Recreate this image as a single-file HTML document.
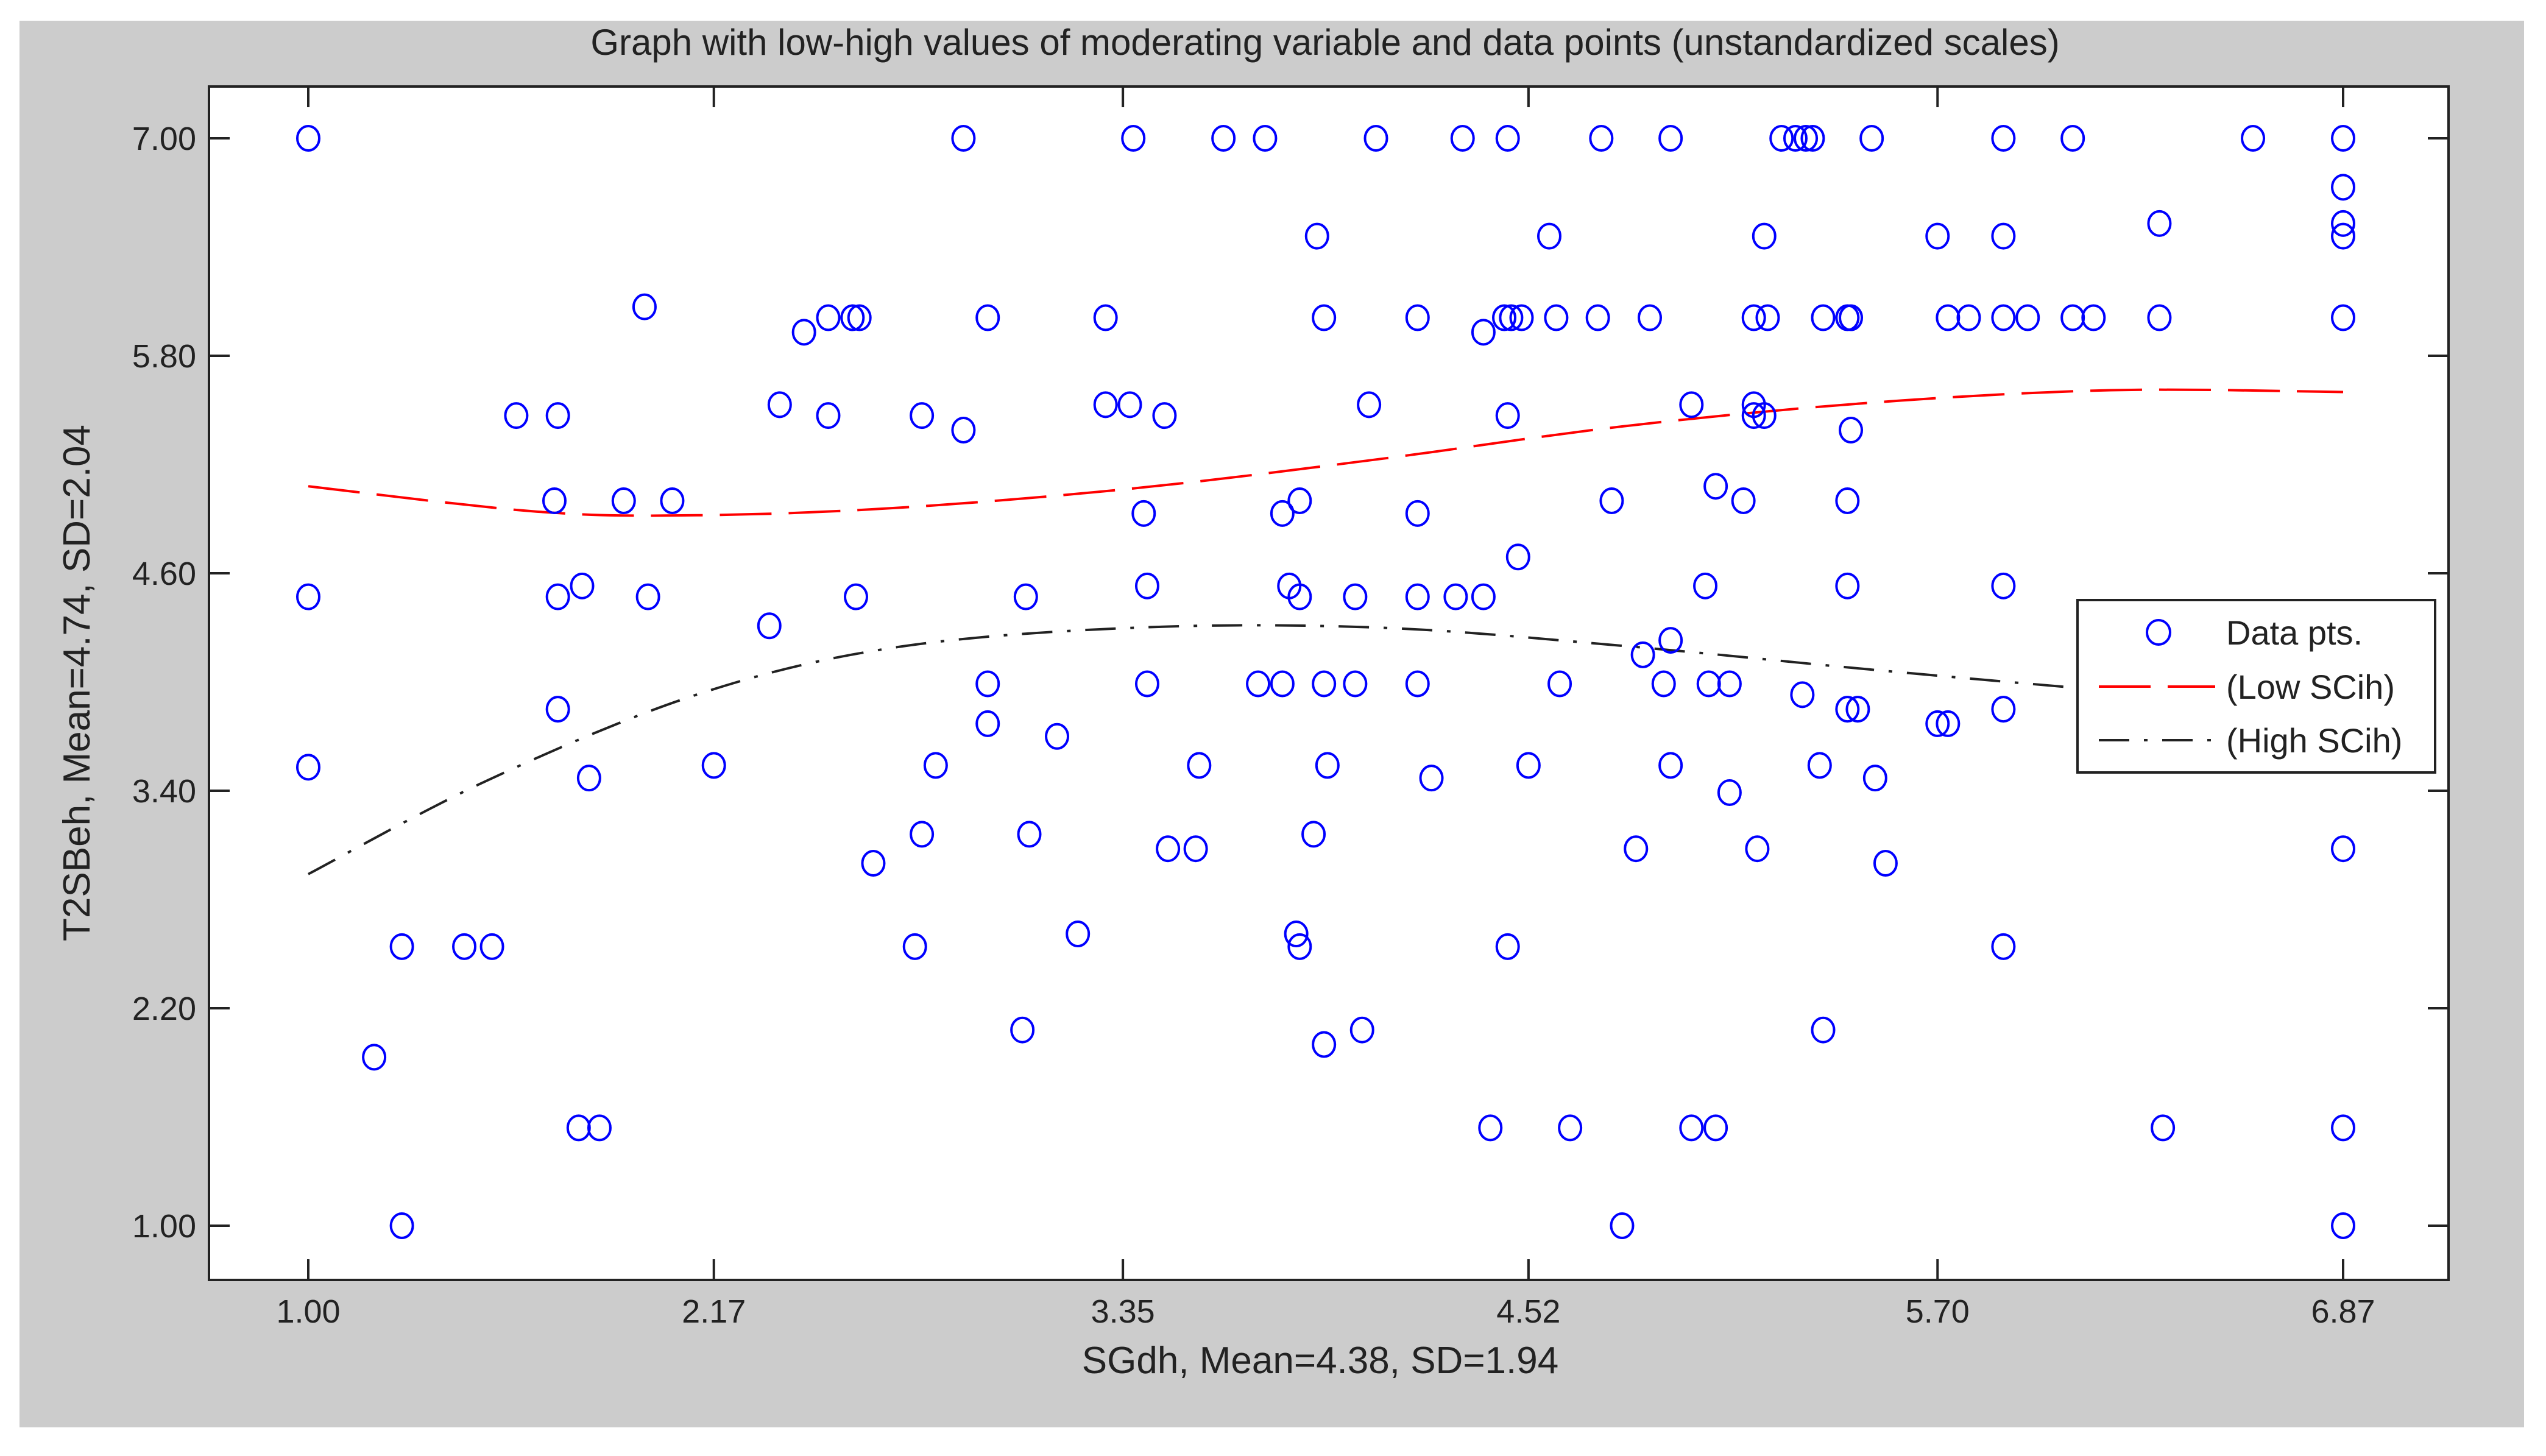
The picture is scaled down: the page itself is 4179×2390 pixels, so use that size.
<!DOCTYPE html>
<html><head><meta charset="utf-8"><style>
html,body{margin:0;padding:0;background:#fff;}
svg{display:block;font-family:"Liberation Sans",Arial,sans-serif;}
</style></head><body>
<svg id="chart" width="4179" height="2390" viewBox="0 0 4179 2390">
<rect x="32" y="34" width="4111" height="2309" fill="#cccccc"/>
<rect x="343" y="142" width="3676" height="1959" fill="#fff" stroke="#222" stroke-width="4"/>
<text x="2175" y="90" font-size="60" text-anchor="middle" fill="#222">Graph with low-high values of moderating variable and data points (unstandardized scales)</text>
<text x="2167" y="2254" font-size="62" text-anchor="middle" fill="#222">SGdh, Mean=4.38, SD=1.94</text>
<text transform="translate(147,1121) rotate(-90)" font-size="62" text-anchor="middle" fill="#222">T2SBeh, Mean=4.74, SD=2.04</text>
<g id="axes"></g>
<g id="lines"></g>
<g id="points"></g>
<g>
<rect x="3410" y="985" width="587" height="283" fill="#fff" stroke="#222" stroke-width="4"/>
<ellipse cx="3543" cy="1038" rx="19" ry="20" fill="none" stroke="#0000ff" stroke-width="4"/>
<text x="3654" y="1058" font-size="56" fill="#222">Data pts.</text>
<line x1="3445" y1="1127" x2="3636" y2="1127" stroke="#ff0000" stroke-width="4" stroke-dasharray="85,28"/>
<text x="3654" y="1147" font-size="56" fill="#222">(Low SCih)</text>
<line x1="3445" y1="1215" x2="3636" y2="1215" stroke="#222" stroke-width="4" stroke-dasharray="50,24,6,24"/>
<text x="3654" y="1235" font-size="56" fill="#222">(High SCih)</text>
</g>
</svg>
<script>
const xTicks = [1.00, 2.17, 3.35, 4.52, 5.70, 6.87];
const yTicks = [7.00, 5.80, 4.60, 3.40, 2.20, 1.00];
const ptsX = [1.00,1.00,1.00,1.19,1.27,1.27,1.45,1.53,1.60,1.72,1.71,1.72,1.72,1.79,1.81,1.78,1.84,1.91,1.97,1.98,2.05,2.17,2.33,2.36,2.43,2.50,2.50,2.57,2.59,2.58,2.63,2.75,2.77,2.77,2.81,2.89,2.89,2.96,2.96,2.96,3.06,3.07,3.08,3.16,3.22,3.30,3.30,3.37,3.38,3.41,3.42,3.42,3.47,3.48,3.56,3.57,3.64,3.74,3.76,3.81,3.81,3.83,3.86,3.86,3.85,3.86,3.90,3.91,3.93,3.93,3.94,3.93,4.02,4.02,4.04,4.06,4.08,4.20,4.20,4.20,4.20,4.24,4.31,4.33,4.39,4.39,4.41,4.45,4.46,4.46,4.46,4.47,4.50,4.49,4.52,4.58,4.60,4.61,4.64,4.72,4.73,4.76,4.79,4.83,4.85,4.87,4.91,4.93,4.93,4.93,4.99,4.99,5.03,5.04,5.06,5.06,5.10,5.10,5.14,5.17,5.17,5.17,5.20,5.18,5.20,5.21,5.25,5.29,5.32,5.34,5.31,5.36,5.37,5.37,5.44,5.45,5.45,5.44,5.44,5.44,5.47,5.51,5.52,5.55,5.70,5.70,5.73,5.73,5.79,5.89,5.89,5.89,5.89,5.96,5.89,5.89,6.09,6.09,6.15,6.34,6.34,6.35,6.61,6.87,6.87,6.87,6.87,6.87,6.87,6.87,6.87];
const ptsY = [7.00,4.47,3.53,1.93,2.54,1.00,2.54,2.54,5.47,5.47,5.00,4.47,3.85,4.53,3.47,1.54,1.54,5.00,6.07,4.47,5.00,3.54,4.31,5.53,5.93,6.01,5.47,6.01,6.01,4.47,3.00,2.54,3.16,5.47,3.54,7.00,5.39,6.01,3.99,3.77,2.08,4.47,3.16,3.70,2.61,6.01,5.53,5.53,7.00,4.93,4.53,3.99,5.47,3.08,3.08,3.54,7.00,3.99,7.00,3.99,4.93,4.53,4.47,5.00,2.61,2.54,3.16,6.46,3.99,6.01,3.54,2.00,3.99,4.47,2.08,5.53,7.00,6.01,4.93,4.47,3.99,3.47,4.47,7.00,4.47,5.93,1.54,6.01,5.47,2.54,7.00,6.01,6.01,4.69,3.54,6.46,6.01,3.99,1.54,6.01,7.00,5.00,1.00,3.08,4.15,6.01,3.99,4.23,7.00,3.54,5.53,1.54,4.53,3.99,5.08,1.54,3.39,3.99,5.00,6.01,5.53,5.47,5.47,3.08,6.46,6.01,7.00,7.00,7.00,7.00,3.93,3.54,6.01,2.08,6.01,6.01,5.39,5.00,4.53,3.85,3.85,7.00,3.47,3.00,6.46,3.77,3.77,6.01,6.01,4.53,7.00,6.46,6.01,6.01,3.85,2.54,7.00,6.01,6.01,6.53,6.01,1.54,7.00,7.00,6.73,6.53,6.46,6.01,3.08,1.54,1.00];
const lowX = [1.00,1.66,2.12,2.69,3.39,4.09,4.79,5.50,6.20,6.87];
const lowY = [5.08,4.94,4.92,4.96,5.07,5.23,5.41,5.54,5.61,5.60];
const highX = [1.00,1.52,2.12,2.69,3.39,4.09,4.79,5.50,6.15,6.87];
const highY = [2.94,3.46,3.93,4.19,4.30,4.30,4.20,4.07,3.96,3.85];

const X0=343, X1=4019, Y0=142, Y1=2101;
function sx(v){return 506 + (v-1)/(5.87)*3340;}
function sy(v){return 227 + (7-v)/6*1785;}
const NS='http://www.w3.org/2000/svg';
function mk(tag, attrs, parent){const e=document.createElementNS(NS,tag);for(const k in attrs)e.setAttribute(k,attrs[k]);parent.appendChild(e);return e;}
const axes=document.getElementById('axes');
xTicks.forEach(function(t){
  const x=sx(t);
  const a=mk('line',{x1:x,y1:Y1,x2:x,y2:Y1-34,stroke:'#222','stroke-width':4},axes);
  
  
  const b=mk('line',{x1:x,y1:Y0,x2:x,y2:Y0+34,stroke:'#222','stroke-width':4},axes);
  
  
  const l=mk('text',{x:x,y:2171,'font-size':54,'text-anchor':'middle',fill:'#222'},axes);
  l.textContent=t.toFixed(2);
  
  
});
yTicks.forEach(function(t){
  const y=sy(t);
  const a=mk('line',{x1:X0,y1:y,x2:X0+34,y2:y,stroke:'#222','stroke-width':4},axes);
  
  
  const b=mk('line',{x1:X1,y1:y,x2:X1-34,y2:y,stroke:'#222','stroke-width':4},axes);
  
  
  const l=mk('text',{x:322,y:y+19,'font-size':54,'text-anchor':'end',fill:'#222'},axes);
  l.textContent=t.toFixed(2);
  
  
});
function smoothPath(xs,ys){
  const p=xs.map(function(x,i){return [sx(x),sy(ys[i])];});
  let d='M'+p[0][0]+','+p[0][1];
  for(let i=0;i<p.length-1;i++){
    const p0=p[Math.max(0,i-1)],p1=p[i],p2=p[i+1],p3=p[Math.min(p.length-1,i+2)];
    const c1=[p1[0]+(p2[0]-p0[0])/6,p1[1]+(p2[1]-p0[1])/6];
    const c2=[p2[0]-(p3[0]-p1[0])/6,p2[1]-(p3[1]-p1[1])/6];
    d+=' C'+c1[0]+','+c1[1]+' '+c2[0]+','+c2[1]+' '+p2[0]+','+p2[1];
  }
  return d;
}
const lines=document.getElementById('lines');
const lo=mk('path',{d:smoothPath(lowX,lowY),fill:'none',stroke:'#ff0000','stroke-width':4,'stroke-dasharray':'85,28'},lines);


const hi=mk('path',{d:smoothPath(highX,highY),fill:'none',stroke:'#222','stroke-width':4,'stroke-dasharray':'50,24,6,24'},lines);


const pts=document.getElementById('points');
ptsX.forEach(function(x,i){
  const c=mk('ellipse',{cx:sx(x),cy:sy(ptsY[i]),rx:18,ry:20,fill:'none',stroke:'#0000ff','stroke-width':4},pts);
  
  
});
</script>
</body></html>
